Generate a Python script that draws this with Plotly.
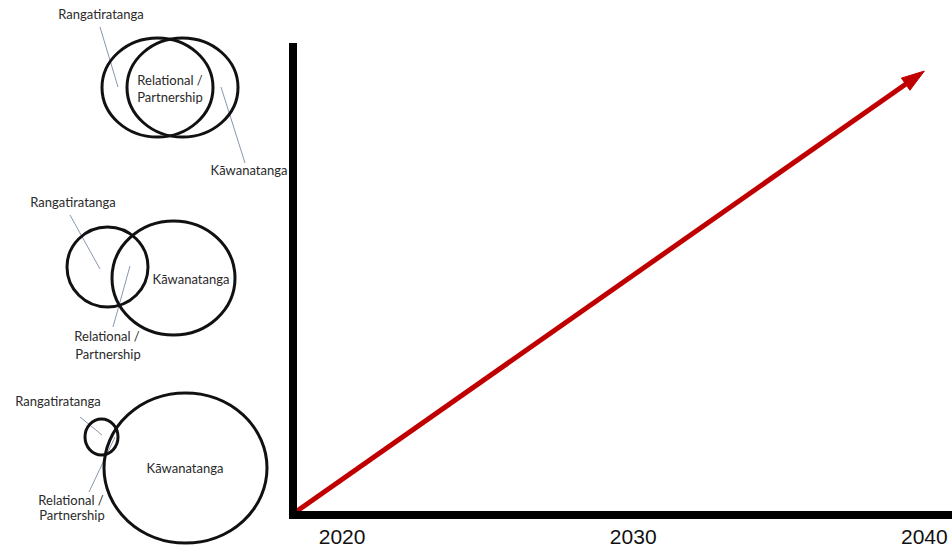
import plotly.graph_objects as go

# ---- main timeline chart data ----
tick_years = [2020, 2030, 2040]
arrow_years = [2018.45, 2040.0]
arrow_levels = [0.0, 0.94]

# ---- Venn diagram data (diagram units = pixels of the left panel) ----
venn_circle_x0 = [102, 127, 67, 112, 85, 104]
venn_circle_x1 = [213, 238, 148, 235, 118, 267]
venn_circle_y0 = [38, 38, 227, 221, 419, 393]
venn_circle_y1 = [137, 137, 307, 335, 455, 543]

label_text = ["Rangatiratanga", "Relational /", "Partnership", "Kāwanatanga",
              "Rangatiratanga", "Kāwanatanga", "Relational /", "Partnership",
              "Rangatiratanga", "Kāwanatanga", "Relational /", "Partnership"]
label_x = [101, 170, 170, 249, 73, 191, 107, 108, 58, 185, 71, 72]
label_y = [16, 82, 99, 172, 204, 281, 338, 356, 403, 470, 502, 517]

leader_x = [100, 118, None, 221, 245, None, 70, 100, None, 130, 113, None, 80, 102, None, 115, 89]
leader_y = [27, 87, None, 87, 163, None, 215, 269, None, 266, 327, None, 417, 435, None, 437, 492]

fig = go.Figure()

# red arrow
fig.add_trace(go.Scatter(
    x=arrow_years, y=arrow_levels, mode="lines+markers",
    line=dict(color="#C00000", width=5),
    marker=dict(symbol=["circle", "arrow"], size=[0, 24], angleref="previous",
                color="#C00000", opacity=1, line=dict(width=1, color="#C00000")),
    cliponaxis=False, hoverinfo="skip", showlegend=False,
    xaxis="x", yaxis="y"))

# leader lines
fig.add_trace(go.Scatter(
    x=leader_x, y=leader_y, mode="lines",
    line=dict(color="#8797B0", width=1),
    hoverinfo="skip", showlegend=False, xaxis="x2", yaxis="y2", cliponaxis=False))

# labels
fig.add_trace(go.Scatter(
    x=label_x, y=label_y, mode="text", text=label_text,
    textposition="middle center",
    textfont=dict(family="Lato", size=13, color="#2a2a2a"),
    hoverinfo="skip", showlegend=False, xaxis="x2", yaxis="y2", cliponaxis=False))

shapes = []
for x0, x1, y0, y1 in zip(venn_circle_x0, venn_circle_x1, venn_circle_y0, venn_circle_y1):
    shapes.append(dict(type="circle", xref="x2", yref="y2", x0=x0, x1=x1, y0=y0, y1=y1,
                       line=dict(color="#111111", width=3), fillcolor="rgba(0,0,0,0)"))

fig.update_layout(
    width=952, height=552,
    margin=dict(l=0, r=0, t=0, b=0),
    paper_bgcolor="white", plot_bgcolor="rgba(0,0,0,0)",
    shapes=shapes,
    xaxis=dict(domain=[297 / 952, 1], range=[2018.45, 2040.95],
               tickvals=tick_years, ticktext=[str(y) for y in tick_years],
               ticks="", showgrid=False, zeroline=False,
               showline=True, linewidth=8, linecolor="black",
               tickfont=dict(family="Liberation Sans, Arial", size=21, color="#111111"),
               anchor="y"),
    yaxis=dict(domain=[(552 - 511) / 552, (552 - 43) / 552], range=[0, 1],
               showticklabels=False, ticks="", showgrid=False, zeroline=False,
               showline=True, linewidth=8, linecolor="black", anchor="x"),
    xaxis2=dict(domain=[0, 290 / 952], range=[0, 290], visible=False, anchor="y2"),
    yaxis2=dict(domain=[0, 1], range=[552, 0], visible=False, anchor="x2"),
)

fig.write_html("out.html",
               config={"displayModeBar": False},
               post_script="document.body.style.margin='0';document.body.style.overflow='hidden';")
